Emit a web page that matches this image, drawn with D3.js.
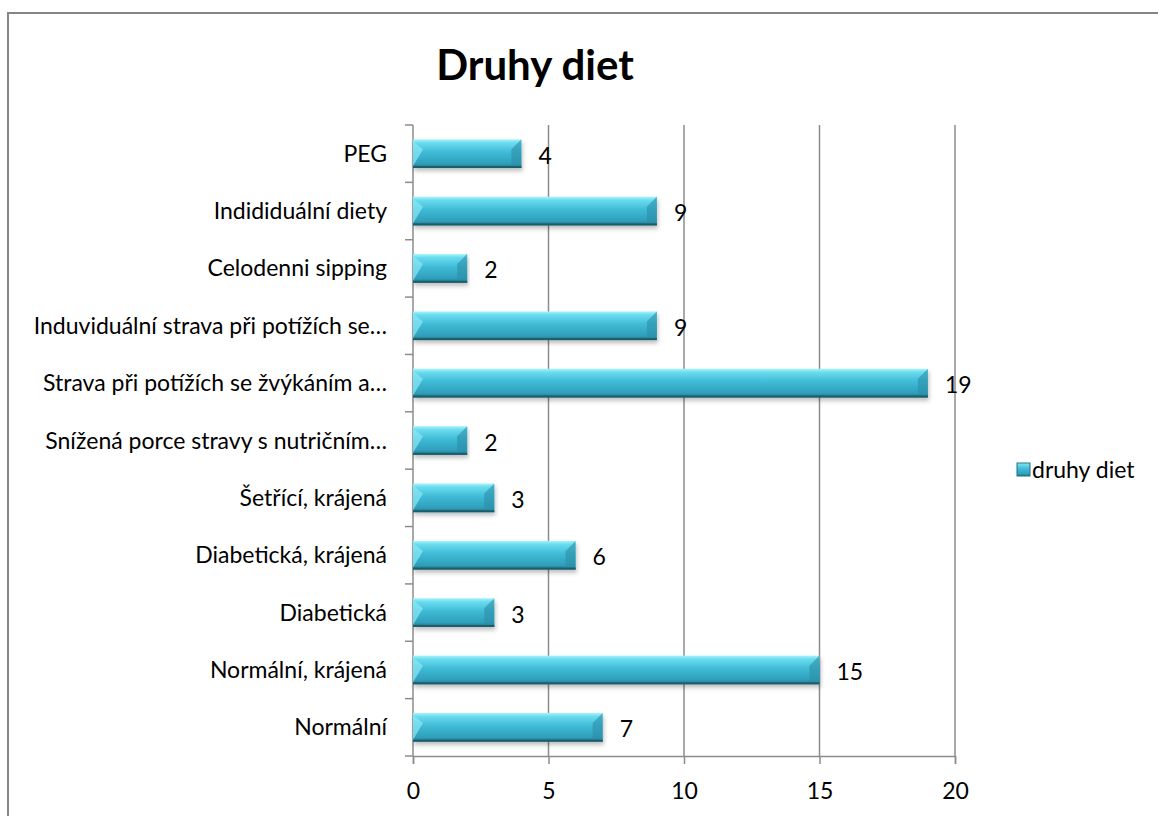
<!DOCTYPE html>
<html>
<head>
<meta charset="utf-8">
<script src="https://cdn.jsdelivr.net/npm/d3@7"></script>
<style>
  body { margin: 0; background: #fff; }
  svg { font-family: Lato, "Liberation Sans", sans-serif; }
</style>
</head>
<body>
<svg id="chart" width="1158" height="816"></svg>
<script>
// kategorie odspodu nahoru (jako v Excelu)
const categories = [
    "Normální",
    "Normální, krájená",
    "Diabetická",
    "Diabetická, krájená",
    "Šetřící, krájená",
    "Snížená porce stravy s nutričním…",
    "Strava při potížích se žvýkáním a…",
    "Induviduální strava při potížích se…",
    "Celodenni sipping",
    "Indididuální diety",
    "PEG"
];
const values = [7, 15, 3, 6, 3, 2, 19, 9, 2, 9, 4];
const xTicks = [0, 5, 10, 15, 20];
const seriesName = "druhy diet";
const title = "Druhy diet";

const svg = d3.select("#chart");
const margin = { top: 125, left: 413 };
const axisY = 756;
const width = 1158, height = 816;
const fontSize = 23;

// rámeček grafu
svg.append("rect")
    .attr("x", 8).attr("y", 13)
    .attr("width", width).attr("height", height)
    .attr("fill", "#fff")
    .attr("stroke", "#868686")
    .attr("stroke-width", 2);

const defs = svg.append("defs");
const grad = defs.append("linearGradient")
    .attr("id", "barGrad")
    .attr("x1", 0).attr("y1", 0).attr("x2", 0).attr("y2", 1);
grad.append("stop").attr("offset", "0%").attr("stop-color", "#a6f4fc");
grad.append("stop").attr("offset", "12%").attr("stop-color", "#6bdcef");
grad.append("stop").attr("offset", "45%").attr("stop-color", "#3fbbd6");
grad.append("stop").attr("offset", "85%").attr("stop-color", "#2f9fbb");
grad.append("stop").attr("offset", "100%").attr("stop-color", "#226f82");

const shadow = defs.append("filter").attr("id", "shadow")
    .attr("x", "-5%").attr("y", "-20%").attr("width", "110%").attr("height", "160%");
shadow.append("feDropShadow")
    .attr("dx", 1).attr("dy", 3).attr("stdDeviation", 2)
    .attr("flood-color", "#000").attr("flood-opacity", 0.25);

const x = d3.scaleLinear()
    .domain([0, 20])
    .range([margin.left, 955]);

const y = d3.scaleBand()
    .domain(categories)
    .range([axisY, margin.top])
    .paddingInner(0.5)
    .paddingOuter(0.25);

// svislé mřížky
svg.append("g")
    .selectAll("line")
    .data(xTicks.slice(1))
    .enter()
    .append("line")
    .attr("x1", d => x(d)).attr("x2", d => x(d))
    .attr("y1", margin.top).attr("y2", axisY)
    .attr("stroke", "#8c8c8c")
    .attr("stroke-width", 1.5);

// osa X
const xAxis = svg.append("g")
    .attr("transform", `translate(0,${axisY})`)
    .call(d3.axisBottom(x).tickValues(xTicks).tickSize(8));
xAxis.select(".domain").attr("stroke", "#8c8c8c").attr("stroke-width", 1.5);
xAxis.selectAll(".tick line").attr("stroke", "#8c8c8c").attr("stroke-width", 1.5);
xAxis.selectAll("text")
    .attr("y", 43).attr("dy", 0)
    .attr("font-size", fontSize).attr("fill", "#000")
    .attr("font-family", "Lato, sans-serif");

// osa Y - značky mezi kategoriemi
const bandEdges = d3.range(categories.length + 1)
    .map(i => axisY - i * (axisY - margin.top) / categories.length);
svg.append("line")
    .attr("x1", margin.left).attr("x2", margin.left)
    .attr("y1", margin.top).attr("y2", axisY)
    .attr("stroke", "#8c8c8c").attr("stroke-width", 1.5);
svg.append("g").selectAll("line")
    .data(bandEdges)
    .enter()
    .append("line")
    .attr("x1", margin.left - 8).attr("x2", margin.left)
    .attr("y1", d => d).attr("y2", d => d)
    .attr("stroke", "#8c8c8c").attr("stroke-width", 1.5);

svg.append("g").selectAll("text")
    .data(categories)
    .enter()
    .append("text")
    .attr("x", margin.left - 26)
    .attr("y", d => y(d) + y.bandwidth() / 2)
    .attr("dy", "0.35em")
    .attr("text-anchor", "end")
    .attr("font-size", fontSize)
    .text(d => d);

// sloupce
const bars = svg.append("g").selectAll("g")
    .data(values)
    .enter()
    .append("g")
    .attr("filter", "url(#shadow)");

bars.append("rect")
    .attr("x", x(0))
    .attr("y", (d, i) => y(categories[i]))
    .attr("width", d => x(d) - x(0))
    .attr("height", y.bandwidth())
    .attr("fill", "url(#barGrad)");

// zkosené konce
bars.append("path")
    .attr("d", (d, i) => {
        const y0 = y(categories[i]), h = y.bandwidth(), x1 = x(d), b = h * 0.35;
        return `M${x1},${y0} L${x1 - b},${y0 + b} L${x1 - b},${y0 + h - 2} L${x1},${y0 + h} Z`;
    })
    .attr("fill", "#2c8ea6").attr("opacity", 0.6);
bars.append("path")
    .attr("d", (d, i) => {
        const y0 = y(categories[i]), h = y.bandwidth(), x0 = x(0), b = h * 0.35;
        return `M${x0},${y0 + 2} L${x0 + b},${y0 + b} L${x0},${y0 + h - 2} Z`;
    })
    .attr("fill", "#8ae8f6").attr("opacity", 0.7);
bars.append("rect")
    .attr("x", x(0))
    .attr("y", (d, i) => y(categories[i]) + y.bandwidth() - 2)
    .attr("width", d => x(d) - x(0))
    .attr("height", 2)
    .attr("fill", "#1f5d6c");

// popisky hodnot
svg.append("g").selectAll("text")
    .data(values)
    .enter()
    .append("text")
    .attr("x", d => x(d) + 17)
    .attr("y", (d, i) => y(categories[i]) + y.bandwidth() / 2 + 2)
    .attr("dy", "0.35em")
    .attr("font-size", fontSize)
    .text(d => d);

// nadpis
svg.append("text")
    .attr("x", 535)
    .attr("y", 80)
    .attr("text-anchor", "middle")
    .attr("font-size", 42)
    .attr("font-weight", "bold")
    .text(title);

// legenda
const legend = svg.append("g").attr("transform", "translate(1017,463)");
legend.append("rect")
    .attr("width", 13).attr("height", 13)
    .attr("fill", "url(#barGrad)")
    .attr("stroke", "#226f82").attr("stroke-width", 1);
legend.append("text")
    .attr("x", 15).attr("y", 7)
    .attr("dy", "0.35em")
    .attr("font-size", fontSize)
    .text(seriesName);
</script>
</body>
</html>
